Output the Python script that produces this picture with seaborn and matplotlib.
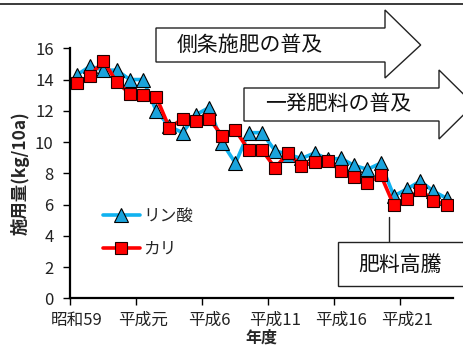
import numpy as np
import pandas as pd
import matplotlib
matplotlib.use("Agg")
import matplotlib.pyplot as plt
from matplotlib.patches import Polygon, Rectangle
from matplotlib.lines import Line2D
import seaborn as sns

# ---- data ----
year_index = list(range(29))  # 昭和59 (1984) .. 平成24 (2012)
phosphate = [14.3, 14.85, 14.6, 14.6, 14.0, 14.0, 12.0, 11.0, 10.6, 11.75,
             12.2, 9.95, 8.65, 10.6, 10.6, 9.45, 9.2, 8.95, 9.3, 8.9,
             8.95, 8.5, 8.25, 8.65, 6.55, 7.0, 7.5, 6.85, 6.4]
potash = [13.8, 14.25, 15.2, 13.85, 13.1, 13.0, 12.9, 10.9, 11.5, 11.35,
          11.5, 10.4, 10.75, 9.5, 9.5, 8.35, 9.3, 8.45, 8.75, 8.8,
          8.15, 7.75, 7.35, 7.9, 5.95, 6.35, 6.95, 6.25, 6.0]
tick_positions = [0, 5, 10, 15, 20, 25]
tick_labels = ["昭和59", "平成元", "平成6", "平成11", "平成16", "平成21"]
series_names = ["リン酸", "カリ"]

sns.set_theme(style="white")
plt.rcParams['font.family'] = ['Noto Sans CJK JP', 'DejaVu Sans']

W, H = 463, 354
fig = plt.figure(figsize=(W / 100, H / 100), dpi=100)

def fx(x):
    return x / W

def fy(y):
    return 1 - y / H

ax_l, ax_r, ax_t, ax_b = 70.4, 453.3, 48.3, 298.3
ax = fig.add_axes([fx(ax_l), fy(ax_b), (ax_r - ax_l) / W, (ax_b - ax_t) / H])

df = pd.DataFrame({
    "year": year_index * 2,
    "value": phosphate + potash,
    "series": [series_names[0]] * len(year_index) + [series_names[1]] * len(year_index),
})

blue_line = "#10B2F0"
blue_mark = "#1AA3DC"
red = "#FF0000"

sns.lineplot(data=df[df.series == series_names[0]], x="year", y="value", ax=ax,
             color=blue_line, lw=2.6, marker="^", markersize=10,
             markerfacecolor=blue_mark, markeredgecolor="black", markeredgewidth=0.8,
             label=series_names[0])
sns.lineplot(data=df[df.series == series_names[1]], x="year", y="value", ax=ax,
             color=red, lw=2.6, marker="s", markersize=8.5,
             markerfacecolor=red, markeredgecolor="#200000", markeredgewidth=0.8,
             label=series_names[1])

ax.set_xlim(-0.5, 28.5)
ax.set_ylim(0, 16)
ax.set_yticks(np.arange(0, 17, 2))
ax.set_yticklabels([str(v) for v in range(0, 17, 2)], fontsize=12, color="#222222")
ax.set_xticks(tick_positions)
ax.set_xticklabels(tick_labels, fontsize=12, color="#222222")
ax.set_xticks([p - 0.5 for p in tick_positions], minor=True)
ax.tick_params(axis="x", which="major", length=0, pad=10)
ax.tick_params(axis="x", which="minor", length=5, width=1, color="black", direction="out", bottom=True)
ax.tick_params(axis="y", which="major", length=5, width=1, color="black", direction="out", left=True, pad=7)
for s in ["top", "right"]:
    ax.spines[s].set_visible(False)
for s in ["left", "bottom"]:
    ax.spines[s].set_color("black")
    ax.spines[s].set_linewidth(1.6)
ax.set_xlabel("年度", fontsize=11.5, fontweight="bold", labelpad=0)
ax.set_ylabel("施用量(kg/10a)", fontsize=12.5, fontweight="bold", labelpad=4)
ax.patch.set_alpha(0)

leg = ax.legend(loc="center left", bbox_to_anchor=(0.085, 0.262), frameon=False,
                fontsize=12, handlelength=2.2, handletextpad=0.2, labelspacing=0.95,
                borderaxespad=0, borderpad=0)

# ---- top border ----
fig.add_artist(Line2D([0, 1], [fy(4), fy(4)], transform=fig.transFigure,
                      color="#3a3a3a", lw=1.4))

def arrow(x0, xb, tip, yt, yb, ht, hb):
    yc = (yt + yb) / 2
    pts = [(x0, yt), (xb, yt), (xb, ht), (tip, yc), (xb, hb), (xb, yb), (x0, yb)]
    poly = Polygon([(fx(x), fy(y)) for x, y in pts], closed=True,
                   transform=fig.transFigure, facecolor="white",
                   edgecolor="#222222", lw=1.0, clip_on=False, zorder=5)
    fig.add_artist(poly)

arrow(156, 385, 420.7, 28, 62, 10, 78)
fig.text(fx(250), fy(45), "側条施肥の普及", fontsize=15, ha="center", va="center",
         color="#111111", zorder=6)
arrow(244, 439, 474, 88, 121, 70, 139)
fig.text(fx(338.5), fy(104.5), "一発肥料の普及", fontsize=15, ha="center", va="center",
         color="#111111", zorder=6)

# ---- 肥料高騰 callout ----
fig.add_artist(Line2D([fx(389.3), fx(389.3)], [fy(216.7), fy(241.7)],
                      transform=fig.transFigure, color="#222222", lw=1.0))
fig.add_artist(Rectangle((fx(337.7), fy(286)), fx(470 - 337.7), (286 - 241.7) / H,
                         transform=fig.transFigure, facecolor="white",
                         edgecolor="#222222", lw=1.0, zorder=5))
fig.text(fx(400), fy(264.5), "肥料高騰", fontsize=15, ha="center", va="center",
         color="#111111", zorder=6)

fig.savefig("out.png", dpi=100)
